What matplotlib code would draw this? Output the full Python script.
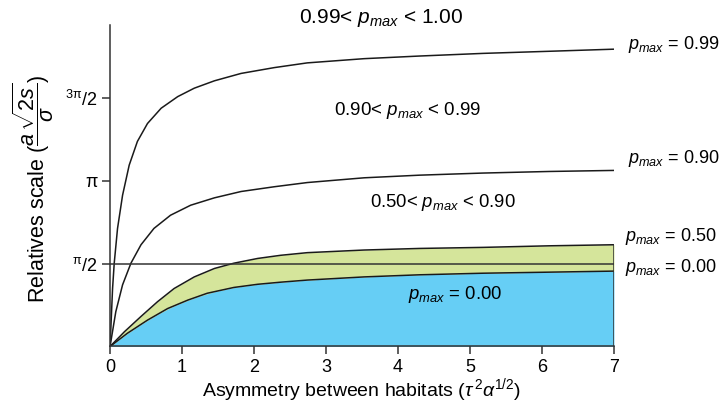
import numpy as np
import matplotlib
matplotlib.use('Agg')
import matplotlib.pyplot as plt

OUTPUT_PATH = 'out.png'
BLUE = '#66cef5'
GREEN = '#d5e59b'
LINE = '#1a1a1a'

# curve values
X_099 = [0, 0.035, 0.058, 0.104, 0.174, 0.266, 0.38, 0.52, 0.71, 0.94, 1.17, 1.45, 1.82, 2.28, 2.74, 3.53, 4.3, 5.18, 6.1, 7.0]
Y_099 = [0, 1.10, 1.58, 2.24, 2.87, 3.44, 3.89, 4.23, 4.52, 4.74, 4.90, 5.04, 5.18, 5.29, 5.38, 5.46, 5.51, 5.56, 5.60, 5.64]

X_090 = [0, 0.08, 0.174, 0.29, 0.43, 0.61, 0.84, 1.12, 1.45, 1.82, 2.28, 2.74, 3.53, 4.3, 5.18, 6.1, 7.0]
Y_090 = [0, 0.66, 1.17, 1.58, 1.93, 2.24, 2.49, 2.68, 2.82, 2.94, 3.03, 3.11, 3.20, 3.25, 3.29, 3.32, 3.34]

X_050 = [0, 0.20, 0.43, 0.66, 0.89, 1.17, 1.45, 1.72, 2.05, 2.37, 2.74, 3.53, 4.3, 5.18, 6.1, 7.0]
Y_050 = [0, 0.28, 0.57, 0.85, 1.10, 1.32, 1.48, 1.58, 1.67, 1.73, 1.78, 1.83, 1.86, 1.88, 1.91, 1.93]

X_000 = [0, 0.24, 0.52, 0.80, 1.08, 1.35, 1.72, 2.05, 2.37, 2.74, 3.53, 4.3, 5.18, 6.1, 7.0]
Y_000 = [0, 0.25, 0.50, 0.72, 0.88, 1.01, 1.12, 1.18, 1.22, 1.26, 1.32, 1.36, 1.39, 1.41, 1.43]

X_TICKS = [0, 1, 2, 3, 4, 5, 6, 7]
Y_TICKS = [np.pi / 2, np.pi, 3 * np.pi / 2]
Y_TICK_LABELS = [r'$^{\mathrm{\pi}}$/2', 'π', r'$^{\mathrm{3\pi}}$/2']

RIGHT_LABELS = ['0.99', '0.90', '0.50', '0.00']
REGION_LABELS = ['0.99< $p_{max}$ < 1.00', '0.90< $p_{max}$ < 0.99', '0.50< $p_{max}$ < 0.90', '$p_{max}$ = 0.00']


def main() -> None:
    plt.rcParams['font.family'] = ['Liberation Sans', 'DejaVu Sans']
    plt.rcParams['mathtext.fontset'] = 'custom'
    plt.rcParams['mathtext.rm'] = 'Liberation Sans'
    plt.rcParams['mathtext.it'] = 'Liberation Sans:italic'
    plt.rcParams['mathtext.sf'] = 'Liberation Sans'

    fig = plt.figure(figsize=(7.24, 4.12), dpi=100)
    ax = fig.add_axes([0.152, 0.159, 0.696, 0.7805])

    # filled bands
    y_low_on_050 = np.interp(X_050, X_000, Y_000)
    ax.fill_between(X_000, 0, Y_000, color=BLUE, lw=0)
    ax.fill_between(X_050, y_low_on_050, Y_050, color=GREEN, lw=0)

    for xs, ys in [(X_099, Y_099), (X_090, Y_090), (X_050, Y_050), (X_000, Y_000)]:
        ax.plot(xs, ys, color=LINE, lw=1.1, solid_joinstyle='round')

    ax.axhline(np.pi / 2, color='#333333', lw=1.1)
    ax.plot([7, 7], [0, Y_050[-1]], color='#333333', lw=1.1)

    ax.set_xlim(0, 7)
    ax.set_ylim(0, 6.1)
    for side in ['top', 'right']:
        ax.spines[side].set_visible(False)
    for side in ['left', 'bottom']:
        ax.spines[side].set_linewidth(1.1)
        ax.spines[side].set_color('#333333')

    ax.set_xticks(X_TICKS)
    ax.set_xticklabels([str(t) for t in X_TICKS])
    ax.set_yticks(Y_TICKS)
    ax.set_yticklabels(Y_TICK_LABELS)
    ax.tick_params(direction='out', length=6, width=1.1, color='#333333', labelsize=13, pad=3)

    ax.set_xlabel(r'Asymmetry between habitats ($\tau^{\,2}\alpha^{1/2}$)', fontsize=14, labelpad=0)
    ax.set_ylabel(r'Relatives scale ($\dfrac{a\,\sqrt{2s}}{\sigma}$)', fontsize=15.5)
    ax.yaxis.set_label_coords(-0.108, 0.49)

    right_y = [5.73, 3.57, 2.08, 1.49]
    right_x = [7.19, 7.19, 7.15, 7.15]
    for label, xx, yy in zip(RIGHT_LABELS, right_x, right_y):
        ax.text(xx, yy, f'$p_{{max}}$ = {label}', fontsize=13, va='center', ha='left', clip_on=False)

    region_pos = [(3.76, 6.24), (4.14, 4.485), (4.625, 2.73), (4.79, 0.99)]
    region_size = [15, 13.5, 13.3, 13.3]
    for label, (xx, yy), size in zip(REGION_LABELS, region_pos, region_size):
        ax.text(xx, yy, label, fontsize=size, va='center', ha='center', clip_on=False)

    fig.savefig(OUTPUT_PATH, dpi=100)
    plt.close(fig)


if __name__ == '__main__':
    main()
